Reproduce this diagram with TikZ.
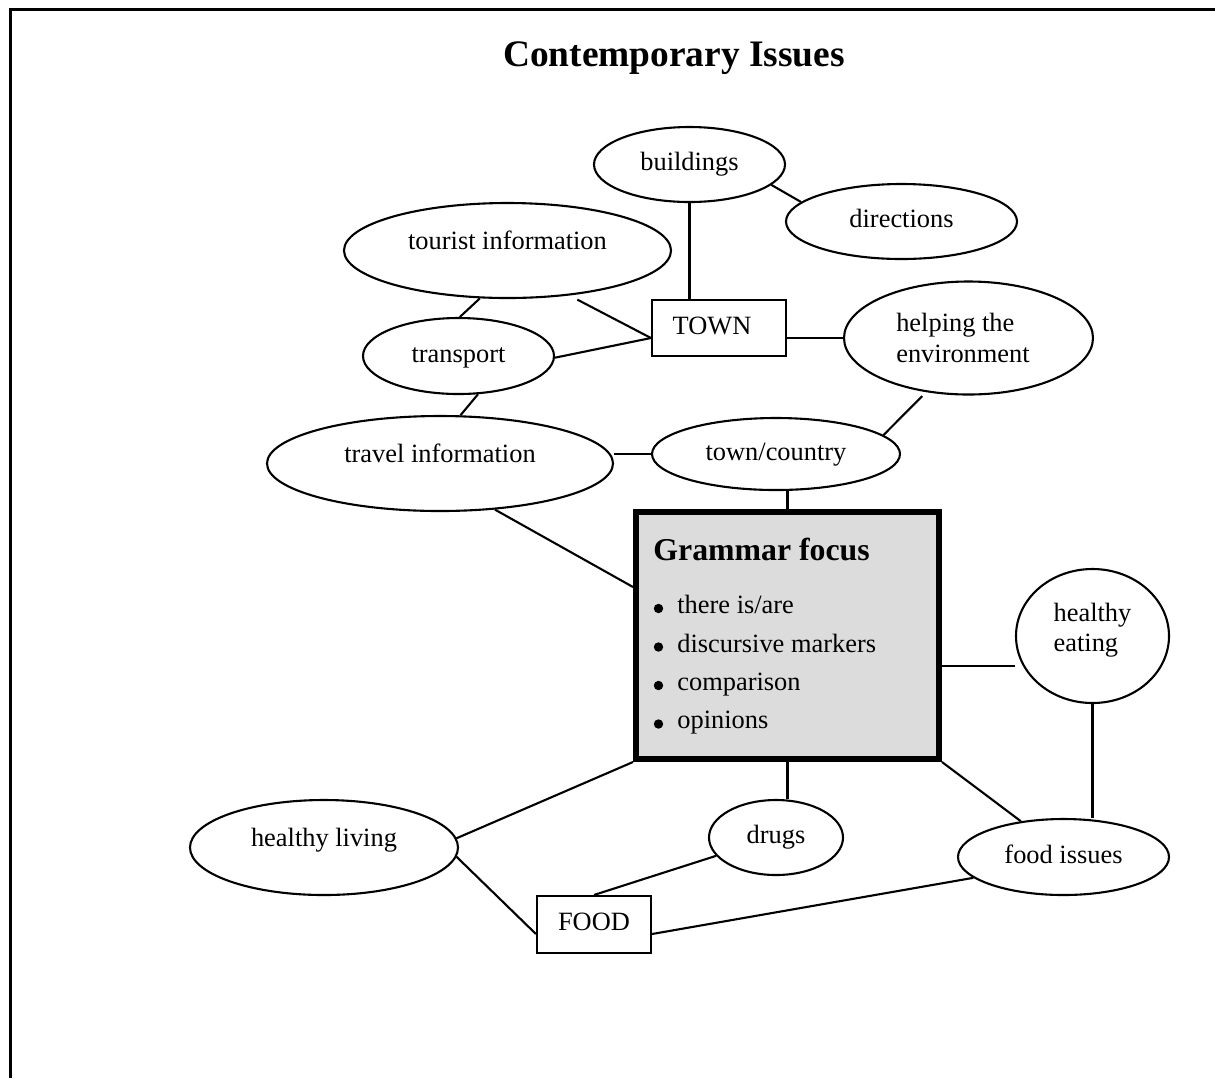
\documentclass[tikz,border=0pt]{standalone}
\usepackage{fontspec}
\setmainfont{Liberation Serif}
\usetikzlibrary{shapes.geometric}
\definecolor{boxgray}{RGB}{220,220,220}
\tikzset{
  bub/.style={ellipse, draw, line width=1.05pt, inner sep=0pt, text height=9pt, text depth=3pt},
  bubup/.style={bub, text height=5.5pt, text depth=6.5pt},
  rbox/.style={rectangle, draw, line width=1.05pt, inner sep=0pt, text height=9pt, text depth=3pt},
  link/.style={line width=1.05pt},
  dot/.style={circle, fill=black, inner sep=0pt, minimum size=4.7pt},
  itemtext/.style={anchor=base west, inner sep=0pt},
}
\begin{document}
\begin{tikzpicture}[x=0.5pt, y=-0.5pt, font=\fontsize{13.2pt}{15.3pt}\selectfont]
\useasboundingbox (0,0) rectangle (1215,1078);
% frame
\draw[line width=1.5pt] (10,1078) -- (10,9.5) -- (1215,9.5);
% title
\node[font=\fontsize{18.7pt}{22pt}\selectfont\bfseries, anchor=base] (title) at (674,66) {Contemporary Issues};
% nodes
\node[bub, minimum width=95.5pt, minimum height=37.5pt] (bld) at (689.5,164.5) {buildings};
\node[bub, minimum width=115.5pt, minimum height=37.5pt] (dir) at (901.5,221.5) {directions};
\node[bubup, minimum width=163.5pt, minimum height=47.5pt] (ti) at (507.5,250.5) {tourist information};
\node[rbox, minimum width=67pt, minimum height=28pt] (town) at (719,328) {TOWN\rule{7pt}{0pt}};
\node[bub, minimum width=95.5pt, minimum height=38pt] (tr) at (458.5,356) {transport};
\node[ellipse, draw, line width=1.05pt, inner sep=0pt, align=left, minimum width=124.5pt, minimum height=56.5pt] (hp) at (968.5,338) {helping the\\environment\rule{5.5pt}{0pt}};
\node[bubup, minimum width=173pt, minimum height=47.5pt] (tv) at (440,463.5) {travel information};
\node[bub, minimum width=124pt, minimum height=36pt] (tc) at (776,454) {town/country};
\node[rectangle, draw, line width=3pt, fill=boxgray, inner sep=0pt, minimum width=151.5pt, minimum height=123.5pt] (gf) at (787.5,635.5) {};
\node[font=\fontsize{15.9pt}{19pt}\selectfont\bfseries, anchor=base west, inner sep=0pt] (gft) at (653,560) {Grammar focus};
\node[dot] (d1) at (658.5,608.5) {};
\node[dot] (d2) at (658.5,647) {};
\node[dot] (d3) at (658.5,685.5) {};
\node[dot] (d4) at (658.5,724) {};
\node[itemtext] (b1) at (677,613) {there is/are};
\node[itemtext] (b2) at (677,652) {discursive markers};
\node[itemtext] (b3) at (677,690) {comparison};
\node[itemtext] (b4) at (677,728) {opinions};
\node[ellipse, draw, line width=1.05pt, inner sep=0pt, minimum width=76.5pt, minimum height=67pt,
  label={[align=left, yshift=3pt]center:healthy\\eating}] (he) at (1092.5,636) {};
\node[bub, minimum width=67pt, minimum height=37.5pt] (dr) at (776,837.5) {drugs};
\node[bub, minimum width=105.5pt, minimum height=38pt] (fi) at (1063.5,857) {food issues};
\node[bubup, minimum width=134pt, minimum height=47.5pt] (hl) at (324,847.5) {healthy living};
\node[rbox, minimum width=57pt, minimum height=28.5pt] (fd) at (594,924.5) {FOOD};
% connectors
\draw[link] (bld.south) -- (bld.south |- town.north);
\draw[link] (bld.-14) -- (dir.169);
\draw[link] (ti.-120) -- (tr.88);
\draw[link, shorten <=4.5pt] (ti.-36) -- ([yshift=-5pt]town.west);
\draw[link] (tr.-1) -- ([yshift=-5pt]town.west);
\draw[link] (hp.west) -- (hp.west -| town.east);
\draw[link, shorten <=2.8pt] (hp.-128) -- (tc.10.5);
\draw[link] (tr.-63) -- (tv.67.6);
\draw[link] (tc.west) -- (tc.west -| tv.east);
\draw[link] (tv.-40) -- ([yshift=24.25pt]gf.west);
\draw[link] (gf.north) -- (gf.north |- tc.south);
\draw[link] ([yshift=-15.25pt]gf.east) -- ([yshift=-15.25pt]gf.east -| he.west);
\draw[link] (he.south) -- (he.south |- fi.north);
\draw[link] (gf.south east) -- (fi.140);
\draw[link] (gf.south) -- (gf.south |- dr.north);
\draw[link] (hl.4) -- (gf.south west);
\draw[link] (hl.-4) -- ([yshift=-4.75pt]fd.west);
\draw[link] (dr.197) -- (fd.north);
\draw[link] ([yshift=-4.75pt]fd.east) -- (fi.193.4);
\end{tikzpicture}
\end{document}
